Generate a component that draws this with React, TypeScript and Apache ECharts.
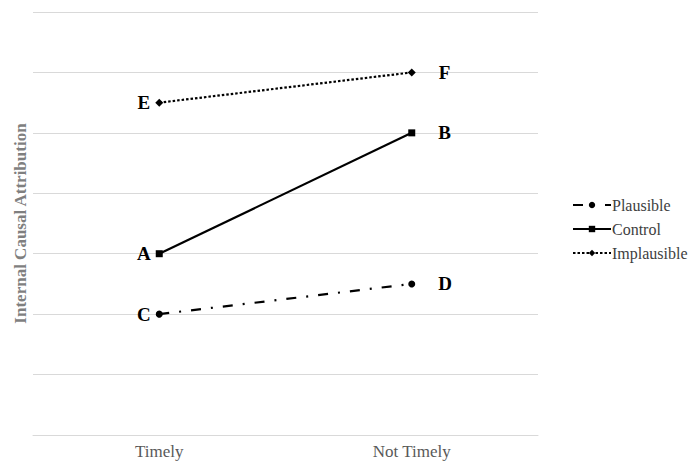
import React, { useEffect, useRef } from "react";
import * as echarts from "echarts";

const categories = ["Timely", "Not Timely"];
const seriesNames = ["Plausible", "Control", "Implausible"];
const plausible = [2, 2.5];
const control = [3, 5];
const implausible = [5.5, 6];
const plausibleLabels = ["C", "D"];
const controlLabels = ["A", "B"];
const implausibleLabels = ["E", "F"];
const yTicks = [0, 1, 2, 3, 4, 5, 6, 7];

const FONT = "'Liberation Serif', 'DejaVu Serif', serif";

function mkData(values: number[], letters: string[]) {
  return values.map((v, i) => ({
    value: v,
    label: {
      show: true,
      formatter: letters[i],
      position: i === 0 ? "left" : "right",
      distance: i === 0 ? 5 : 23,
      fontFamily: FONT,
      fontWeight: "bold",
      fontSize: 19,
      color: "#000",
    },
  }));
}

export default function App() {
  const ref = useRef<HTMLDivElement>(null);
  useEffect(() => {
    if (!ref.current) return;
    const chart = echarts.init(ref.current, undefined, { renderer: "svg" });
    const common = {
      type: "line",
      symbolSize: 7,
      itemStyle: { color: "#000" },
    };
    chart.setOption({
      animation: false,
      backgroundColor: "#fff",
      grid: { left: 33, right: 157, top: 12, bottom: 28 },
      legend: {
        orient: "vertical",
        left: 567,
        top: 192,
        itemWidth: 38,
        itemHeight: 8,
        itemGap: 8,
        data: seriesNames,
        textStyle: { fontFamily: FONT, fontSize: 16, color: "#404040", padding: [0, 0, 0, -4] },
      },
      xAxis: {
        type: "category",
        data: categories,
        axisTick: { show: false },
        axisLine: { lineStyle: { color: "#d9d9d9", width: 1 } },
        axisLabel: { fontFamily: FONT, fontSize: 17, color: "#595959", margin: 8 },
      },
      yAxis: {
        type: "value",
        min: yTicks[0],
        max: yTicks[yTicks.length - 1],
        interval: 1,
        axisLabel: { show: false },
        axisLine: { show: false },
        axisTick: { show: false },
        splitLine: { lineStyle: { color: "#d9d9d9", width: 1 } },
        name: "Internal Causal Attribution",
        nameLocation: "middle",
        nameGap: 4,
        nameTextStyle: { fontFamily: FONT, fontSize: 17, fontWeight: "bold", color: "#7f7f7f" },
      },
      series: [
        {
          ...common,
          name: seriesNames[0],
          symbol: "circle",
          lineStyle: { color: "#000", width: 2.2, type: [10, 10, 2, 10] },
          data: mkData(plausible, plausibleLabels),
        },
        {
          ...common,
          name: seriesNames[1],
          symbol: "rect",
          lineStyle: { color: "#000", width: 2.2, type: "solid" },
          data: mkData(control, controlLabels),
        },
        {
          ...common,
          name: seriesNames[2],
          symbol: "diamond",
          symbolSize: 8,
          lineStyle: { color: "#000", width: 2.2, type: [2.5, 2] },
          data: mkData(implausible, implausibleLabels),
        },
      ],
    });
    return () => chart.dispose();
  }, []);
  return (
    <div
      ref={ref}
      style={{ position: "fixed", left: 0, top: 0, width: 695, height: 463 }}
    />
  );
}
